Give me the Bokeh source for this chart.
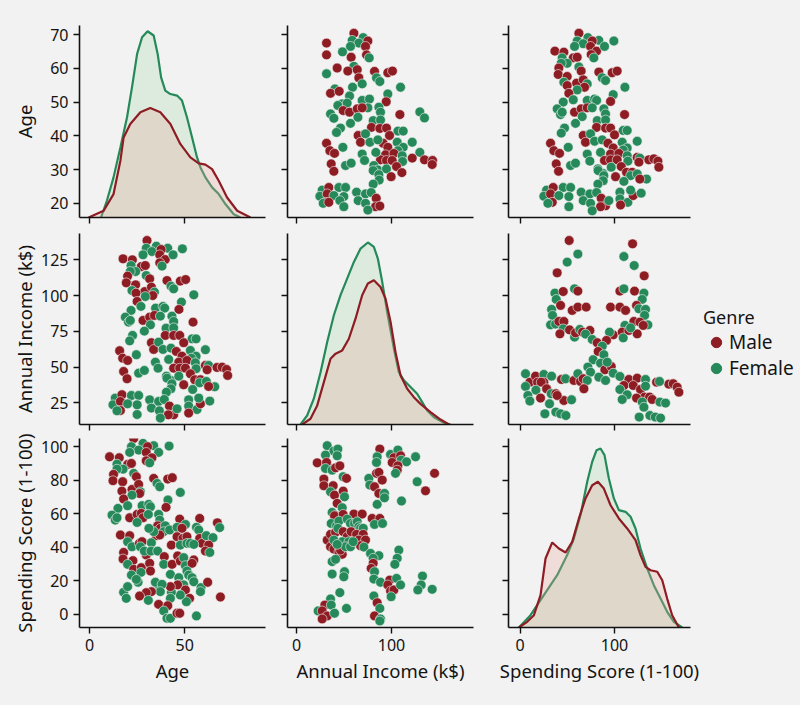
from bokeh.plotting import figure
from bokeh.layouts import gridplot, row
from bokeh.models import Range1d, FixedTicker, ColumnDataSource, Legend, LegendItem
from bokeh.embed import file_html
from bokeh.resources import INLINE

BG = "#f2f2f2"
MALE = "#8e1c23"
FEMALE = "#25895a"
MALE_FILL = "#eba9a0"
FEMALE_FILL = "#8fd296"
INK = "#141414"
FONT = "Noto Sans"

VARS = ["Age", "Annual Income (k$)", "Spending Score (1-100)"]

# tick positions shown on each variable's axes
x_ticks = {0: [0, 50], 1: [0, 100], 2: [0, 100]}
y_ticks = {0: [20, 30, 40, 50, 60, 70], 1: [25, 50, 75, 100, 125], 2: [0, 20, 40, 60, 80, 100]}

# axis extents per column (x) and per row (y)
x_extent = {0: (-5.3, 92.5), 1: (-9.5, 186.3), 2: (-12.2, 180.4)}
y_extent = {0: (15.8, 72.7), 1: (9.8, 143.4), 2: (-7.8, 105.0)}

# ---- kernel density curves (x value, scaled density) ----
age_kde_female = [(6.0, 0), (9.1, 0.087), (12.6, 0.209), (16.2, 0.365), (19.7, 0.522), (22.3, 0.678),
                  (25.0, 0.852), (27.6, 0.939), (30.5, 0.970), (33.7, 0.948), (35.8, 0.852), (37.6, 0.730),
                  (39.8, 0.661), (42.5, 0.643), (46.0, 0.635), (48.6, 0.609), (51.2, 0.522), (53.9, 0.417),
                  (56.5, 0.313), (58.3, 0.261), (60.9, 0.209), (64.4, 0.157), (67.9, 0.122), (71.4, 0.070),
                  (75.8, 0.017), (79.3, 0)]
age_kde_male = [(-0.5, 0), (7.4, 0.035), (12.6, 0.122), (16.2, 0.296), (17.9, 0.417), (21.4, 0.487),
                (26.7, 0.548), (31.9, 0.570), (37.2, 0.548), (42.5, 0.487), (47.7, 0.383), (53.0, 0.313),
                (57.4, 0.282), (60.9, 0.275), (64.4, 0.252), (67.9, 0.191), (72.3, 0.104), (77.6, 0.035),
                (84.6, 0)]
income_kde_female = [(4.2, 0), (11.2, 0.047), (18.2, 0.135), (25.3, 0.274), (32.3, 0.432), (39.3, 0.572),
                     (46.3, 0.677), (53.3, 0.764), (60.4, 0.851), (67.4, 0.921), (75.1, 0.953), (81.4, 0.930),
                     (85.6, 0.869), (90.2, 0.747), (95.4, 0.589), (102.5, 0.397), (107.7, 0.274), (113.0, 0.231),
                     (120.0, 0.196), (127.0, 0.161), (132.3, 0.117), (137.5, 0.073), (144.6, 0.038),
                     (155.1, 0.009), (162.1, 0)]
income_kde_male = [(6.0, 0), (14.7, 0.030), (21.8, 0.100), (28.8, 0.222), (35.8, 0.344), (41.1, 0.371),
                   (48.1, 0.388), (55.1, 0.449), (62.1, 0.554), (69.1, 0.677), (75.1, 0.738), (81.4, 0.755),
                   (88.4, 0.720), (93.7, 0.659), (99.0, 0.537), (104.2, 0.379), (109.5, 0.257), (116.5, 0.187),
                   (123.5, 0.143), (130.5, 0.108), (141.0, 0.065), (151.6, 0.026), (160.4, 0)]
spend_kde_female = [(-1.2, 0), (11.1, 0.065), (25.2, 0.171), (39.3, 0.277), (49.9, 0.383), (57.0, 0.471),
                    (64.0, 0.594), (71.1, 0.771), (76.4, 0.877), (81.0, 0.938), (85.2, 0.947), (89.4, 0.912),
                    (94.0, 0.788), (99.3, 0.683), (104.6, 0.621), (111.7, 0.612), (117.0, 0.586), (122.2, 0.524),
                    (127.5, 0.418), (134.6, 0.312), (141.6, 0.224), (148.7, 0.153), (155.7, 0.083),
                    (162.8, 0.030), (171.6, 0)]
spend_kde_male = [(-1.2, 0), (7.6, 0.030), (14.7, 0.065), (21.7, 0.171), (27.0, 0.365), (34.1, 0.450),
                  (41.1, 0.418), (48.2, 0.397), (55.2, 0.453), (62.3, 0.577), (69.3, 0.683), (76.4, 0.753),
                  (82.4, 0.771), (88.7, 0.735), (95.8, 0.647), (104.6, 0.577), (113.4, 0.524), (122.2, 0.462),
                  (127.5, 0.383), (132.8, 0.321), (138.1, 0.303), (145.2, 0.295), (150.5, 0.250),
                  (155.7, 0.153), (161.0, 0.065), (168.1, 0)]

# ---- scatter panels: (genre, x value, y value) ----
income_age = [
    ("M", 60.4, 70.4), ("F", 70.2, 69.1), ("F", 58.6, 68.3), ("F", 65.6, 67.5), ("F", 56.8, 66.5),
    ("M", 75.1, 68.1), ("M", 72.6, 66.5), ("M", 31.6, 67.5), ("M", 31.6, 64.0), ("F", 48.4, 64.9),
    ("M", 57.5, 63.3), ("M", 73.7, 64.0), ("F", 76.5, 63.1), ("F", 60.4, 60.6), ("M", 42.8, 60.1),
    ("M", 54.0, 59.2), ("M", 63.9, 59.6), ("F", 31.6, 58.4), ("M", 82.1, 59.1), ("M", 96.1, 58.7),
    ("M", 101.0, 59.2), ("M", 65.6, 57.2), ("F", 84.2, 57.2), ("F", 87.7, 56.1), ("F", 69.1, 55.4),
    ("F", 59.0, 54.4), ("F", 109.5, 54.4), ("F", 40.4, 53.9), ("M", 35.8, 52.6), ("M", 44.9, 53.2),
    ("F", 55.8, 51.8), ("F", 96.1, 52.4), ("M", 94.4, 50.1), ("F", 69.1, 50.5), ("F", 76.8, 50.9),
    ("F", 75.1, 48.3), ("F", 48.1, 49.5), ("F", 43.5, 49.0), ("F", 53.3, 49.7), ("M", 49.1, 47.5),
    ("M", 55.8, 47.0), ("M", 63.9, 48.0), ("M", 69.1, 48.3), ("F", 86.7, 48.5), ("F", 88.4, 47.0),
    ("F", 35.8, 46.5), ("F", 39.3, 45.2), ("M", 108.8, 46.3), ("F", 129.8, 47.1), ("F", 134.7, 45.3),
    ("F", 64.6, 45.5), ("F", 80.7, 44.5), ("F", 88.4, 44.7), ("F", 56.8, 43.7), ("F", 46.3, 42.3),
    ("F", 42.1, 41.0), ("M", 78.9, 42.5), ("M", 87.7, 42.2), ("M", 94.7, 42.3), ("F", 106.7, 41.4),
    ("F", 112.3, 41.4), ("M", 64.9, 40.1), ("M", 67.4, 38.1), ("M", 97.9, 40.1), ("F", 72.6, 40.6),
    ("M", 91.2, 37.8), ("F", 77.2, 38.1), ("F", 85.6, 38.8), ("F", 106.0, 38.1), ("F", 112.3, 36.6),
    ("F", 106.7, 35.6), ("F", 121.8, 38.1), ("M", 31.6, 37.8), ("M", 35.1, 35.6), ("M", 40.0, 34.8),
    ("F", 48.8, 36.6), ("M", 96.1, 36.6), ("F", 69.1, 34.6), ("F", 71.6, 32.7), ("M", 93.7, 34.4),
    ("M", 102.5, 34.8), ("M", 88.4, 32.9), ("M", 94.7, 32.7), ("M", 100.7, 32.7), ("F", 83.5, 35.1),
    ("F", 111.2, 34.1), ("F", 111.6, 32.4), ("F", 129.8, 35.1), ("M", 121.8, 33.4), ("M", 134.7, 32.9),
    ("M", 143.2, 32.7), ("M", 142.8, 31.5), ("M", 36.5, 31.7), ("M", 39.3, 29.5), ("F", 51.6, 31.2),
    ("F", 57.5, 31.9), ("F", 81.4, 31.2), ("F", 85.6, 29.9), ("F", 80.7, 29.7), ("F", 94.7, 30.2),
    ("M", 105.3, 30.9), ("M", 110.9, 29.1), ("F", 86.7, 28.5), ("F", 87.0, 26.9), ("M", 99.6, 27.9),
    ("F", 80.7, 25.7), ("F", 27.0, 23.9), ("M", 34.0, 24.7), ("F", 44.6, 24.7), ("F", 51.6, 24.7),
    ("F", 24.6, 22.1), ("M", 32.3, 22.8), ("F", 39.3, 22.3), ("F", 49.8, 22.0), ("M", 30.5, 20.3),
    ("F", 28.1, 20.0), ("M", 34.0, 20.3), ("F", 45.6, 20.8), ("F", 63.2, 23.3), ("F", 72.6, 22.8),
    ("F", 78.6, 23.2), ("F", 64.9, 20.8), ("F", 72.6, 20.0), ("M", 83.9, 21.5), ("F", 49.8, 19.0),
    ("M", 83.2, 19.0), ("M", 87.7, 19.2), ("F", 75.1, 18.0),
]

spend_age = [
    ("M", 62.3, 70.4), ("F", 71.8, 69.1), ("F", 83.4, 68.3), ("F", 99.3, 68.1), ("F", 60.5, 68.1),
    ("F", 66.9, 67.3), ("F", 57.7, 66.5), ("M", 76.4, 68.1), ("M", 74.6, 66.5), ("M", 81.0, 65.1),
    ("M", 75.3, 64.1), ("F", 89.4, 66.5), ("F", 78.1, 63.1), ("M", 36.9, 65.1), ("M", 46.4, 64.8),
    ("F", 44.6, 63.1), ("M", 56.3, 63.1), ("M", 60.5, 63.3), ("F", 49.9, 61.5), ("F", 43.6, 61.5),
    ("M", 41.1, 60.1), ("F", 62.3, 60.4), ("M", 64.7, 59.2), ("M", 83.4, 58.9), ("M", 97.5, 58.7),
    ("M", 102.8, 59.2), ("M", 40.4, 58.2), ("M", 49.9, 57.6), ("F", 87.0, 57.2), ("F", 90.5, 56.4),
    ("F", 46.4, 55.9), ("M", 59.8, 55.6), ("M", 66.9, 56.6), ("M", 49.9, 54.9), ("F", 71.1, 55.4),
    ("M", 68.3, 54.4), ("F", 60.5, 53.6), ("F", 111.0, 54.4), ("M", 51.7, 52.6), ("F", 98.6, 52.2),
    ("F", 56.3, 50.7), ("F", 71.1, 50.5), ("F", 78.9, 50.9), ("F", 81.0, 50.5), ("F", 45.7, 50.0),
    ("M", 95.8, 50.2), ("F", 39.3, 48.0), ("F", 42.9, 46.3), ("F", 44.6, 47.0), ("M", 57.7, 47.0),
    ("M", 64.7, 48.0), ("M", 71.1, 48.3), ("F", 76.4, 48.3), ("F", 88.7, 48.0), ("F", 90.5, 46.5),
    ("F", 65.8, 45.7), ("M", 110.6, 46.3), ("F", 81.7, 44.5), ("F", 90.5, 44.7), ("F", 58.7, 43.7),
    ("F", 47.1, 42.3), ("F", 43.6, 40.8), ("M", 81.0, 42.5), ("M", 90.5, 42.3), ("M", 95.8, 42.3),
    ("F", 109.2, 41.6), ("F", 113.4, 41.6), ("M", 66.9, 40.1), ("M", 69.3, 38.1), ("F", 74.6, 40.6),
    ("M", 100.0, 40.3), ("F", 78.9, 38.4), ("F", 87.0, 38.8), ("M", 93.0, 37.8), ("M", 98.6, 36.4),
    ("F", 108.1, 38.1), ("F", 113.4, 36.4), ("F", 109.2, 35.8), ("F", 124.0, 38.4), ("M", 32.3, 37.8),
    ("M", 35.8, 35.6), ("M", 41.8, 34.8), ("F", 51.0, 36.6), ("F", 71.1, 34.6), ("F", 73.9, 32.5),
    ("F", 85.2, 35.1), ("M", 95.8, 34.6), ("M", 104.6, 34.8), ("M", 89.4, 32.7), ("M", 95.8, 32.9),
    ("M", 102.8, 32.9), ("F", 113.4, 34.1), ("F", 114.1, 32.5), ("M", 124.0, 33.6), ("F", 126.8, 33.4),
    ("M", 125.8, 32.2), ("M", 136.3, 32.9), ("M", 141.6, 33.2), ("M", 145.9, 32.5), ("M", 146.9, 30.7),
    ("M", 38.3, 31.7), ("M", 40.8, 29.5), ("F", 53.5, 31.2), ("F", 58.7, 31.9), ("F", 82.4, 30.2),
    ("F", 87.7, 28.9), ("F", 82.7, 29.7), ("F", 96.5, 30.7), ("M", 107.1, 30.9), ("M", 112.7, 29.2),
    ("M", 118.7, 29.2), ("F", 117.0, 28.2), ("F", 124.0, 28.7), ("F", 133.9, 27.2), ("M", 126.8, 27.2),
    ("M", 101.1, 27.9), ("F", 88.7, 28.2), ("F", 88.0, 26.7), ("F", 109.9, 26.5), ("F", 82.4, 25.7),
    ("F", 28.1, 23.9), ("M", 35.1, 24.7), ("F", 45.7, 24.7), ("F", 53.5, 24.7), ("F", 25.2, 22.1),
    ("M", 32.3, 22.8), ("F", 41.1, 22.3), ("F", 51.7, 22.0), ("M", 34.1, 20.3), ("F", 29.5, 20.0),
    ("F", 64.7, 23.3), ("F", 73.9, 22.8), ("F", 81.0, 23.2), ("F", 66.9, 20.8), ("F", 74.6, 20.0),
    ("M", 85.9, 21.5), ("M", 90.5, 19.3), ("M", 85.2, 19.0), ("F", 94.0, 20.8), ("F", 105.7, 23.3),
    ("F", 105.7, 21.3), ("F", 114.1, 20.3), ("M", 119.8, 22.3), ("F", 117.0, 23.9), ("F", 128.2, 23.0),
    ("M", 106.4, 19.5), ("F", 51.7, 19.0), ("F", 76.4, 17.8),
]

age_income = [
    ("M", 30.2, 138.5), ("F", 29.8, 133.1), ("F", 35.1, 134.5), ("F", 41.1, 133.1), ("F", 48.8, 132.7),
    ("F", 32.8, 130.8), ("F", 28.1, 128.5), ("M", 37.6, 132.2), ("M", 36.9, 128.5), ("M", 39.8, 125.2),
    ("M", 36.9, 122.9), ("F", 43.9, 128.5), ("F", 38.1, 120.6), ("M", 17.6, 125.7), ("M", 22.5, 125.0),
    ("F", 21.8, 121.0), ("M", 27.2, 120.3), ("M", 29.3, 121.0), ("F", 24.2, 116.8), ("F", 21.4, 116.8),
    ("M", 20.0, 113.6), ("F", 29.8, 114.0), ("M", 31.6, 111.7), ("M", 40.7, 110.5), ("M", 47.7, 110.1),
    ("M", 50.5, 111.2), ("M", 19.3, 108.9), ("M", 24.2, 107.5), ("F", 42.8, 106.6), ("F", 44.2, 104.7),
    ("F", 22.3, 103.5), ("M", 29.0, 102.8), ("M", 32.5, 105.9), ("M", 24.4, 101.7), ("F", 34.1, 102.4),
    ("M", 33.2, 100.0), ("F", 29.3, 99.3), ("F", 54.8, 100.5), ("M", 25.0, 95.9), ("F", 48.3, 95.4),
    ("F", 27.0, 92.4), ("F", 34.7, 91.2), ("F", 38.6, 92.4), ("F", 39.5, 91.2), ("F", 21.8, 89.6),
    ("M", 47.0, 90.3), ("F", 18.8, 84.9), ("F", 20.5, 81.4), ("F", 21.4, 82.6), ("M", 28.1, 82.6),
    ("M", 31.6, 84.9), ("M", 34.1, 86.1), ("F", 37.2, 85.6), ("F", 43.3, 85.6), ("F", 44.2, 81.9),
    ("F", 32.0, 79.5), ("M", 54.4, 81.4), ("F", 40.2, 77.2), ("F", 44.2, 77.4), ("F", 28.8, 75.1),
    ("F", 22.6, 72.1), ("F", 21.1, 68.3), ("M", 39.8, 72.1), ("M", 44.2, 72.1), ("M", 47.4, 72.1),
    ("F", 53.9, 69.7), ("F", 56.0, 69.7), ("M", 32.5, 67.0), ("M", 33.7, 62.3), ("F", 36.3, 67.4),
    ("M", 49.5, 67.0), ("F", 38.6, 62.3), ("F", 42.8, 63.2), ("M", 45.6, 60.9), ("M", 48.6, 57.6),
    ("F", 53.0, 61.6), ("F", 56.0, 57.6), ("F", 53.5, 56.2), ("F", 60.9, 62.1), ("M", 15.8, 61.4),
    ("M", 17.4, 56.2), ("M", 20.0, 54.6), ("F", 24.6, 58.6), ("F", 34.6, 53.4), ("F", 36.0, 49.2),
    ("F", 41.6, 55.3), ("M", 46.9, 53.4), ("M", 51.2, 54.6), ("M", 44.2, 49.2), ("M", 47.4, 49.2),
    ("M", 50.4, 49.2), ("F", 55.6, 53.0), ("F", 56.0, 48.8), ("M", 60.9, 51.1), ("F", 62.6, 51.1),
    ("M", 61.8, 48.1), ("M", 67.0, 49.7), ("M", 69.7, 49.9), ("M", 72.0, 48.3), ("M", 72.6, 44.1),
    ("M", 17.9, 46.9), ("M", 19.7, 41.8), ("F", 25.8, 45.7), ("F", 28.8, 47.6), ("F", 40.4, 43.6),
    ("F", 42.8, 40.6), ("F", 40.7, 42.2), ("F", 46.9, 43.6), ("M", 53.0, 45.3), ("M", 55.3, 41.1),
    ("M", 58.3, 41.1), ("F", 57.9, 39.0), ("F", 61.4, 39.9), ("F", 65.8, 36.2), ("M", 62.6, 36.4),
    ("M", 49.5, 37.6), ("F", 43.3, 38.3), ("F", 42.8, 34.8), ("F", 54.2, 34.3), ("F", 40.4, 32.4),
    ("F", 13.5, 28.3), ("M", 17.0, 30.6), ("F", 22.0, 30.1), ("F", 25.8, 30.1), ("F", 12.3, 23.6),
    ("M", 16.2, 25.9), ("F", 20.0, 24.3), ("F", 25.0, 23.6), ("M", 16.2, 19.6), ("F", 14.4, 19.4),
    ("F", 31.6, 27.1), ("F", 36.3, 25.9), ("F", 39.3, 27.3), ("F", 32.5, 21.3), ("F", 36.7, 19.4),
    ("M", 42.0, 22.7), ("M", 44.2, 16.6), ("M", 41.4, 16.6), ("F", 46.0, 20.8), ("F", 52.1, 27.1),
    ("F", 52.1, 22.7), ("F", 56.5, 20.3), ("M", 58.3, 24.3), ("F", 57.4, 28.3), ("F", 63.2, 26.2),
    ("M", 52.1, 17.8), ("F", 25.0, 16.8), ("F", 37.2, 14.3),
]

spend_income = [
    ("M", 52.0, 138.5), ("F", 61.2, 129.0), ("F", 49.9, 123.4), ("M", 39.3, 115.9),
    ("M", 119.1, 136.2), ("F", 109.9, 127.3), ("F", 120.8, 121.0), ("M", 131.4, 113.8),
    ("F", 57.7, 104.7), ("M", 61.2, 103.1), ("F", 36.9, 101.7), ("F", 38.3, 97.3), ("M", 45.7, 102.8),
    ("M", 42.9, 93.1), ("F", 33.4, 90.3), ("F", 34.4, 86.1), ("M", 55.2, 89.6), ("M", 61.2, 91.9),
    ("M", 70.0, 91.9), ("F", 32.3, 79.5), ("F", 37.6, 80.0), ("M", 41.1, 81.9), ("M", 46.4, 81.9),
    ("F", 45.7, 76.7), ("M", 42.2, 73.2), ("M", 52.4, 76.0), ("F", 57.7, 70.9), ("M", 58.7, 73.9),
    ("F", 63.3, 76.3), ("M", 66.2, 74.4), ("M", 73.9, 75.6), ("F", 69.3, 73.0),
    ("M", 105.7, 103.1), ("F", 109.9, 104.7), ("M", 121.2, 103.1), ("F", 131.1, 101.7), ("F", 129.3, 97.3),
    ("M", 95.8, 91.9), ("M", 105.7, 91.9), ("M", 111.7, 89.6), ("M", 123.3, 93.1), ("F", 125.8, 90.7),
    ("F", 132.8, 90.3), ("F", 131.8, 86.1), ("M", 120.5, 81.9), ("M", 126.8, 81.4), ("F", 135.3, 79.5),
    ("M", 130.4, 79.1), ("F", 111.0, 79.1), ("M", 98.6, 72.5), ("F", 94.7, 74.4), ("M", 108.1, 74.4),
    ("F", 109.2, 70.4), ("M", 115.2, 75.6), ("M", 124.0, 73.2), ("F", 117.0, 77.4),
    ("F", 76.4, 69.3), ("M", 81.7, 67.0), ("M", 91.5, 68.6), ("F", 87.0, 64.6), ("M", 82.7, 60.9),
    ("F", 88.7, 58.6), ("F", 77.4, 55.1), ("F", 85.2, 52.7), ("F", 71.8, 50.0), ("F", 74.6, 46.4),
    ("M", 89.8, 48.1), ("M", 96.5, 50.4), ("F", 92.3, 53.4), ("F", 83.4, 42.9), ("F", 90.5, 40.6),
    ("F", 98.6, 45.7), ("F", 105.7, 43.4),
    ("F", 5.8, 45.3), ("M", 10.4, 39.4), ("M", 16.4, 43.6), ("F", 25.2, 44.8), ("M", 25.2, 39.4),
    ("F", 33.4, 43.6), ("M", 18.5, 39.4), ("M", 22.4, 39.4), ("F", 5.8, 36.4), ("F", 16.8, 33.8),
    ("M", 28.1, 34.8), ("F", 33.0, 31.3), ("M", 37.9, 31.3), ("M", 43.9, 41.3), ("F", 48.2, 41.8),
    ("M", 57.0, 40.6), ("F", 61.2, 45.3), ("M", 64.0, 39.9), ("M", 66.9, 41.8), ("F", 71.1, 40.6),
    ("M", 67.6, 34.8), ("F", 8.3, 30.1), ("F", 10.4, 26.2), ("M", 21.7, 28.3), ("F", 31.2, 24.3),
    ("M", 46.4, 26.6), ("F", 54.5, 27.1), ("M", 39.3, 30.1), ("F", 26.3, 17.3), ("F", 37.9, 18.5),
    ("F", 42.9, 17.3), ("F", 48.5, 16.1),
    ("M", 115.2, 41.3), ("M", 124.0, 42.2), ("F", 132.8, 41.3), ("M", 109.9, 37.1), ("M", 119.8, 37.1),
    ("M", 127.5, 34.3), ("F", 105.7, 34.3), ("F", 113.4, 30.6), ("F", 108.1, 27.3), ("M", 144.5, 39.4),
    ("M", 157.5, 38.0), ("M", 162.1, 38.3), ("M", 166.3, 35.9), ("M", 168.1, 32.4), ("F", 147.6, 39.9),
    ("F", 132.8, 36.6), ("M", 131.8, 29.0), ("M", 137.1, 29.0), ("M", 139.9, 27.3), ("F", 148.0, 25.5),
    ("F", 154.0, 24.8), ("M", 123.3, 28.3), ("F", 129.3, 25.5), ("F", 131.1, 21.9), ("F", 126.1, 15.0),
    ("F", 137.4, 16.1), ("F", 143.1, 15.0), ("F", 148.7, 14.3),
]

age_spend = [
    ("M", 23.2, 105.0), ("F", 22.0, 100.1), ("F", 28.1, 102.1), ("F", 33.7, 100.7), ("F", 41.8, 100.5),
    ("M", 30.5, 100.1), ("F", 25.8, 98.1), ("M", 29.8, 96.7), ("F", 21.1, 96.7), ("F", 36.3, 96.7),
    ("M", 32.8, 93.5), ("M", 10.5, 94.1), ("M", 15.6, 93.5), ("M", 29.8, 91.7), ("F", 31.6, 90.5),
    ("F", 14.4, 89.7), ("M", 20.0, 89.5), ("M", 22.0, 90.1), ("F", 17.6, 86.7), ("F", 14.4, 86.7),
    ("M", 12.6, 83.6), ("F", 23.2, 84.2), ("M", 24.6, 82.2), ("M", 33.7, 81.2), ("M", 41.1, 80.8),
    ("M", 43.5, 81.6), ("M", 12.3, 79.8), ("M", 17.4, 79.2), ("F", 35.5, 78.2), ("F", 36.9, 76.2),
    ("M", 22.3, 74.6), ("M", 25.8, 77.6), ("M", 17.0, 73.6), ("F", 26.7, 73.2), ("M", 26.3, 72.2),
    ("F", 22.3, 71.2), ("F", 47.7, 72.8), ("M", 17.9, 68.9), ("F", 41.2, 68.3), ("F", 20.0, 64.9),
    ("F", 27.6, 64.9), ("F", 31.1, 65.7), ("F", 32.0, 64.3), ("F", 14.9, 63.3), ("M", 40.2, 63.9),
    ("F", 11.8, 59.3), ("F", 13.5, 56.3), ("F", 14.4, 57.7), ("M", 21.1, 57.7), ("M", 25.0, 59.7),
    ("M", 27.2, 60.3), ("M", 28.1, 57.7), ("F", 30.9, 59.7), ("F", 36.3, 59.7), ("F", 36.9, 56.3),
    ("F", 25.0, 54.9), ("M", 47.4, 56.9), ("M", 57.9, 57.3), ("M", 67.2, 54.7), ("F", 68.4, 51.8),
    ("M", 35.8, 52.9), ("M", 37.2, 51.4), ("F", 39.8, 52.9), ("F", 39.0, 49.4), ("F", 42.1, 50.4),
    ("F", 46.0, 52.0), ("F", 50.4, 53.7), ("M", 48.6, 51.4), ("F", 56.2, 52.0), ("F", 57.4, 50.4),
    ("M", 35.1, 47.0), ("M", 36.9, 47.4), ("F", 33.7, 49.4), ("F", 31.2, 51.4), ("M", 16.2, 47.4),
    ("M", 21.1, 47.0), ("F", 20.0, 43.4), ("F", 22.3, 40.4), ("M", 26.2, 42.4), ("M", 27.6, 43.4),
    ("F", 26.7, 40.4), ("F", 32.5, 42.8), ("M", 46.0, 46.4), ("M", 49.1, 45.4), ("M", 51.2, 46.4),
    ("M", 43.0, 41.4), ("F", 47.7, 41.4), ("F", 51.2, 42.4), ("F", 53.0, 42.4), ("M", 57.9, 45.4),
    ("M", 59.1, 42.4), ("F", 61.4, 47.0), ("F", 64.9, 45.8), ("M", 62.6, 41.4), ("M", 60.9, 37.8),
    ("F", 63.2, 37.0), ("F", 54.8, 41.8), ("M", 17.9, 37.0), ("M", 17.6, 33.1), ("M", 22.8, 32.1),
    ("F", 20.0, 29.9), ("M", 23.2, 26.9), ("F", 22.0, 23.5), ("M", 27.2, 27.9), ("M", 29.8, 35.5),
    ("M", 31.6, 30.5), ("M", 32.0, 25.9), ("F", 27.0, 25.1), ("F", 28.8, 37.8), ("F", 32.3, 37.8),
    ("F", 35.8, 37.8), ("M", 39.3, 34.5), ("F", 39.0, 29.9), ("M", 43.4, 29.9), ("F", 42.5, 23.9),
    ("F", 46.9, 21.9), ("M", 46.3, 34.9), ("M", 47.7, 31.9), ("F", 49.5, 33.9), ("F", 50.4, 29.1),
    ("M", 54.8, 32.5), ("M", 53.9, 30.5), ("F", 51.2, 25.9), ("F", 52.1, 23.5), ("F", 53.9, 21.9),
    ("F", 54.8, 19.5), ("F", 58.6, 16.0), ("F", 58.3, 13.6), ("M", 62.1, 19.2), ("F", 46.9, 18.0),
    ("F", 49.5, 17.6), ("M", 46.3, 17.6), ("M", 50.4, 14.6), ("M", 52.6, 9.6), ("F", 50.9, 7.6),
    ("F", 47.7, 11.6), ("F", 43.0, 13.2), ("F", 42.5, 9.6), ("M", 42.5, 16.6), ("F", 36.3, 17.6),
    ("F", 34.6, 19.2), ("F", 38.1, 18.0), ("F", 37.2, 13.6), ("M", 32.5, 13.6), ("M", 29.8, 13.0),
    ("M", 26.3, 11.0), ("F", 30.9, 8.4), ("F", 17.9, 13.2), ("F", 19.3, 9.6), ("F", 20.0, 16.6),
    ("F", 25.5, 19.2), ("F", 24.6, 20.9), ("M", 36.3, 6.0), ("M", 41.1, 5.2), ("F", 39.0, 2.1),
    ("F", 40.7, -2.3), ("F", 42.5, -2.3), ("M", 46.0, 0.7), ("M", 47.4, 0.7), ("F", 56.2, -0.9),
    ("M", 68.8, 10.4),
]

income_spend = [
    ("F", 32.3, 100.7), ("F", 39.3, 97.5), ("F", 43.5, 98.7), ("F", 30.5, 95.1), ("F", 42.8, 94.7),
    ("M", 21.8, 90.5), ("M", 31.6, 90.7), ("F", 30.5, 87.1), ("F", 37.5, 86.1), ("M", 41.1, 87.5),
    ("M", 45.6, 88.7), ("F", 49.1, 82.2), ("M", 52.6, 81.2), ("M", 28.8, 80.8), ("M", 28.8, 76.8),
    ("M", 38.6, 76.8), ("F", 35.8, 73.2), ("M", 40.0, 71.2), ("M", 49.1, 73.6), ("F", 50.5, 70.2),
    ("M", 42.8, 66.3), ("F", 48.1, 63.7), ("F", 37.5, 60.9), ("F", 41.1, 58.9), ("M", 40.0, 58.9),
    ("M", 49.1, 59.7), ("M", 60.4, 59.9), ("M", 69.1, 59.9), ("F", 36.5, 54.3), ("F", 42.1, 52.9),
    ("F", 44.6, 55.7), ("F", 53.3, 56.9), ("F", 56.8, 54.3), ("F", 61.1, 54.3), ("F", 63.9, 55.3),
    ("F", 65.6, 52.4), ("F", 67.4, 51.4), ("F", 70.2, 51.4), ("M", 32.3, 44.4), ("M", 35.8, 47.8),
    ("M", 41.1, 49.0), ("F", 43.5, 51.4), ("M", 49.1, 49.4), ("M", 53.3, 46.4), ("M", 57.5, 49.4),
    ("M", 63.2, 47.8), ("M", 70.2, 47.8), ("M", 65.6, 44.4), ("M", 72.6, 44.4), ("M", 67.4, 41.0),
    ("M", 35.8, 40.4), ("M", 39.3, 39.0), ("M", 44.6, 37.4), ("M", 48.1, 35.9), ("M", 46.3, 38.4),
    ("F", 39.3, 44.4), ("F", 48.1, 43.4), ("F", 55.1, 43.4), ("F", 51.6, 40.4), ("F", 56.8, 40.4),
    ("F", 59.6, 43.4), ("F", 42.8, 41.8), ("F", 70.9, 40.2), ("F", 37.5, 31.5), ("F", 41.1, 32.9),
    ("M", 79.6, 57.3), ("M", 87.7, 57.3), ("F", 82.1, 53.7), ("F", 90.5, 54.3), ("M", 87.7, 98.7),
    ("F", 84.9, 94.1), ("F", 84.2, 90.7), ("F", 76.1, 81.2), ("F", 77.2, 77.2), ("M", 84.2, 84.2),
    ("M", 86.7, 84.8), ("M", 90.2, 80.2), ("M", 82.1, 76.2), ("M", 86.7, 72.2), ("F", 92.6, 72.2),
    ("F", 92.6, 69.6), ("F", 84.9, 65.7), ("F", 99.0, 95.5), ("F", 106.7, 98.1), ("M", 102.5, 93.5),
    ("M", 109.5, 94.7), ("F", 110.2, 92.1), ("F", 115.8, 91.1), ("M", 100.7, 90.7), ("M", 106.7, 88.7),
    ("M", 106.0, 86.1), ("F", 104.2, 84.2), ("F", 125.3, 94.1), ("F", 127.0, 79.2), ("M", 135.8, 73.8),
    ("M", 145.3, 84.2), ("F", 110.5, 67.7), ("F", 77.9, 36.4), ("F", 86.7, 35.1), ("F", 80.7, 33.5),
    ("M", 80.7, 30.5), ("M", 78.6, 27.5), ("F", 82.1, 25.5), ("F", 81.4, 21.1), ("F", 88.4, 19.2),
    ("F", 107.7, 38.4), ("F", 106.0, 33.5), ("F", 103.5, 29.9), ("M", 98.2, 20.5), ("M", 96.1, 17.6),
    ("M", 99.0, 14.0), ("M", 102.5, 14.6), ("F", 105.3, 21.5), ("F", 109.5, 17.6), ("F", 99.6, 10.6),
    ("F", 132.6, 22.9), ("F", 131.2, 17.6), ("F", 127.7, 14.6), ("F", 142.8, 15.0), ("F", 37.5, 24.1),
    ("F", 50.5, 25.5), ("F", 49.8, 22.5), ("F", 45.6, 13.0), ("F", 35.8, 9.2), ("M", 29.8, 5.6),
    ("F", 36.5, 5.6), ("F", 22.8, 2.1), ("M", 27.0, 2.1), ("M", 32.3, -0.9), ("M", 27.0, -2.7),
    ("F", 40.0, 0.7), ("F", 52.6, 3.6), ("F", 81.4, 11.0), ("M", 84.9, 7.0), ("F", 87.7, 3.6),
    ("M", 82.1, -0.9), ("F", 88.4, -2.7), ("F", 87.7, -3.9),
]

scatter_panels = {
    (0, 1): income_age, (0, 2): spend_age,
    (1, 0): age_income, (1, 2): spend_income,
    (2, 0): age_spend, (2, 1): income_spend,
}
kde_panels = {
    0: (age_kde_female, age_kde_male),
    1: (income_kde_female, income_kde_male),
    2: (spend_kde_female, spend_kde_male),
}

# layout: figure sizes and borders chosen so the nine frames tile the grid
col_width = [276, 217, 207]
col_border = [(79, 11), (11, 20), (15, 10)]
row_height = [225, 206, 274]
row_border = [(25, 8), (8, 7), (7, 78)]
ylabel_standoff = [10, 1, 1]
LEGEND_WIDTH = 100


def style_axis(ax, ticks, show_labels, label, standoff=5):
    ax.ticker = FixedTicker(ticks=ticks)
    ax.axis_line_color = "#111111"
    ax.axis_line_width = 1.6
    ax.major_tick_line_color = "#111111"
    ax.major_tick_line_width = 1.4
    ax.major_tick_out = 6
    ax.major_tick_in = 0
    ax.minor_tick_out = 0
    ax.minor_tick_in = 0
    ax.major_label_text_font = FONT
    if show_labels:
        ax.major_label_text_color = INK
        ax.major_label_text_font_size = "16px"
        ax.major_label_standoff = 5
        ax.axis_label = label
        ax.axis_label_text_font = FONT
        ax.axis_label_text_font_size = "18.5px"
        ax.axis_label_text_font_style = "normal"
        ax.axis_label_text_color = INK
        ax.axis_label_standoff = standoff
    else:
        # inner panels keep their tick marks but show no tick labels
        ax.major_label_text_color = None
        ax.major_label_text_font_size = "0px"
        ax.major_label_standoff = 0


grid = []
for r in range(3):
    row_figs = []
    for c in range(3):
        p = figure(
            width=col_width[c], height=row_height[r],
            x_range=Range1d(*x_extent[c]), y_range=Range1d(*y_extent[r]),
            output_backend="svg", toolbar_location=None,
            min_border_left=col_border[c][0], min_border_right=col_border[c][1],
            min_border_top=row_border[r][0], min_border_bottom=row_border[r][1],
            background_fill_color=BG, border_fill_color=BG, outline_line_color=None,
        )
        p.grid.visible = False
        style_axis(p.xaxis[0], x_ticks[c], r == 2, VARS[c], 4)
        style_axis(p.yaxis[0], y_ticks[r], c == 0, VARS[r], ylabel_standoff[r])

        if r == c:
            female, male = kde_panels[r]
            p.extra_y_ranges = {"density": Range1d(0, 1)}
            for curve, line_color, fill_color, alpha in ((female, FEMALE, FEMALE_FILL, 0.22),
                                                          (male, MALE, MALE_FILL, 0.3)):
                xs = [pt[0] for pt in curve]
                ys = [pt[1] for pt in curve]
                p.varea(x=xs, y1=[0] * len(xs), y2=ys, y_range_name="density",
                        fill_color=fill_color, fill_alpha=alpha)
                p.line(xs, ys, y_range_name="density", line_color=line_color, line_width=2.2)
        else:
            pts = scatter_panels[(r, c)]
            src = ColumnDataSource(dict(
                x=[pt[1] for pt in pts],
                y=[pt[2] for pt in pts],
                color=[MALE if pt[0] == "M" else FEMALE for pt in pts],
            ))
            p.scatter("x", "y", source=src, size=9.8, fill_color="color",
                      line_color="#f4f4f4", line_width=0.6)
        row_figs.append(p)
    grid.append(row_figs)

pairs = gridplot(grid, toolbar_location=None)
pairs.styles = {"background-color": BG}

# legend lives in its own narrow panel to the right of the grid
leg = figure(width=LEGEND_WIDTH, height=sum(row_height), x_range=Range1d(0, 1), y_range=Range1d(0, 1),
             output_backend="svg", toolbar_location=None, min_border=0,
             background_fill_color=BG, border_fill_color=BG, outline_line_color=None)
leg.axis.visible = False
leg.grid.visible = False
male_key = leg.scatter([-5], [-5], size=10, fill_color=MALE, line_color=MALE)
female_key = leg.scatter([-5], [-5], size=10, fill_color=FEMALE, line_color=FEMALE)
legend = Legend(
    items=[LegendItem(label="Male", renderers=[male_key]),
           LegendItem(label="Female", renderers=[female_key])],
    title="Genre", location=(3, 324), orientation="vertical",
    padding=0, margin=0, spacing=0, glyph_width=26, glyph_height=26,
    label_standoff=0, title_standoff=0,
    background_fill_alpha=0, border_line_alpha=0,
    label_text_font=FONT, label_text_font_size="19px", label_text_color=INK,
    title_text_font=FONT, title_text_font_size="18px",
    title_text_font_style="normal", title_text_color=INK,
)
leg.add_layout(legend, "center")

page = row(pairs, leg)
page.styles = {"background-color": BG}

with open("out.html", "w") as f:
    f.write(file_html(page, INLINE))
